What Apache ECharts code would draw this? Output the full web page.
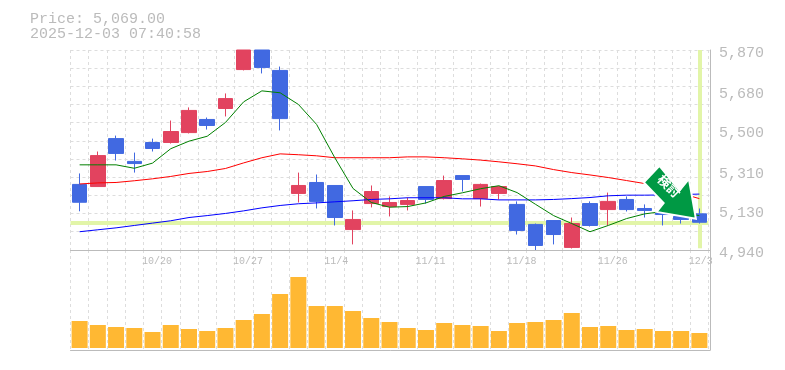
<!DOCTYPE html>
<html>
<head>
<meta charset="utf-8">
<style>
  html, body { margin: 0; padding: 0; background: #fff; }
  #chart { width: 785px; height: 370px; }
</style>
<script src="https://cdn.jsdelivr.net/npm/echarts@6/dist/echarts.min.js"></script>
</head>
<body>
<div id="chart"></div>
<script>
var dates = ['10/14','10/15','10/16','10/17','10/20','10/21','10/22','10/23','10/24','10/27','10/28','10/29','10/30','10/31','11/4','11/5','11/6','11/7','11/10','11/11','11/12','11/13','11/14','11/17','11/18','11/19','11/20','11/21','11/25','11/26','11/27','11/28','12/1','12/2','12/3']
var dateLabelIdx = [4, 9, 14, 19, 24, 29, 34]

// 10/27 and 10/28 run off the top of the frame, so they stop at 5870 here
var open  = [5245,5235,5458,5352,5440,5440,5486,5547,5598,5779,5870,5775,5203,5254,5240,5035,5156,5142,5152,5235,5179,5286,5179,5203,5152,5059,5077,4952,5156,5128,5175,5133,5114,5096,5108]
var close = [5162,5379,5389,5342,5412,5491,5589,5519,5644,5870,5789,5551,5240,5166,5091,5082,5212,5161,5170,5175,5263,5268,5245,5235,5031,4961,5012,5063,5054,5166,5128,5124,5105,5082,5069]
var low   = [5120,5235,5356,5300,5398,5435,5482,5500,5561,5775,5761,5496,5161,5133,5054,4966,5138,5096,5124,5156,5175,5212,5142,5175,5012,4940,4966,4947,5049,5054,5119,5091,5054,5063,5063]
var high  = [5296,5398,5472,5393,5458,5542,5603,5556,5668,5870,5870,5793,5300,5291,5240,5124,5240,5189,5184,5235,5286,5286,5249,5235,5166,5063,5077,5091,5166,5207,5189,5152,5114,5096,5133]

var maShort = [5336,5336,5336,5320,5344,5411,5446,5469,5533,5629,5680,5671,5617,5524,5369,5226,5161,5139,5142,5159,5189,5206,5225,5239,5207,5153,5100,5063,5025,5054,5086,5108,5119,5110,5100]
var maMid   = [5247,5252,5254,5262,5271,5282,5296,5305,5319,5345,5369,5387,5383,5378,5369,5369,5369,5369,5373,5373,5369,5364,5358,5350,5341,5331,5314,5300,5289,5277,5263,5249,5226,5203,5179]
var maLong  = [5025,5034,5043,5054,5065,5076,5091,5100,5110,5122,5136,5147,5155,5159,5164,5169,5175,5178,5183,5183,5183,5178,5178,5173,5173,5173,5175,5179,5184,5192,5195,5195,5196,5198,5200]

var volume = [27,23,21,20,16,23,19,17,20,28,34,54,71,42,42,37,30,26,20,18,25,23,22,17,25,26,28,35,21,22,18,19,17,17,15]

var lastPrice = 5069
var priceLabels = [4940, 5130, 5310, 5500, 5680, 5870]
var priceGrid = [4940,5025,5109,5194,5279,5363,5447,5532,5617,5701,5786,5870]
var titleText = 'Price: 5,069.00\n2025-12-03 07:40:58'
var arrowText = '検討'

var monoFont = '"Liberation Mono", "DejaVu Sans Mono", monospace'
var gridLine = { show: true, lineStyle: { color: '#ddd', width: 1, type: [3, 3] } }
var frameLine = { show: true, onZero: false, lineStyle: { color: '#bbb', width: 1 } }
var hidden = { axisLine: { show: false }, axisTick: { show: false }, axisLabel: { show: false }, splitLine: { show: false } }

function maLine(name, data, color) {
	return {
		name: name,
		type: 'line',
		xAxisIndex: 0,
		yAxisIndex: 0,
		data: data,
		symbol: 'none',
		silent: true,
		lineStyle: { color: color, width: 1 }
	}
}

var chart = echarts.init(document.getElementById('chart'), null, { renderer: 'canvas' })
chart.setOption({
	animation: false,
	backgroundColor: '#fff',
	title: {
		text: titleText,
		left: 25,
		top: 7,
		textStyle: { fontFamily: monoFont, fontSize: 15, fontWeight: 'normal', color: '#bbb', lineHeight: 15 }
	},
	// grids 0 and 1 hold the marks, the frame around them (2 and 3) runs a little wider
	grid: [
		{ left: 70.5, width: 638, top: 50, height: 200 },
		{ left: 70.5, width: 638, top: 250, height: 100 },
		{ left: 70.5, width: 639.5, top: 50, height: 200 },
		{ left: 70.5, width: 639.5, top: 250, height: 100 }
	],
	xAxis: [
		{
			type: 'category',
			gridIndex: 0,
			data: dates,
			axisLine: { show: false },
			axisTick: { show: false },
			axisLabel: { show: false },
			splitLine: Object.assign({ interval: 0 }, gridLine)
		},
		{
			type: 'category',
			gridIndex: 1,
			data: dates,
			axisLine: { show: false },
			axisTick: { show: false },
			axisLabel: { show: false },
			splitLine: Object.assign({ interval: 0 }, gridLine)
		},
		{
			// date labels start at the left edge of their band, so count bands here
			type: 'value',
			gridIndex: 2,
			position: 'bottom',
			min: 0.08,
			max: 35.16,
			axisLine: frameLine,
			axisTick: { show: false },
			splitLine: { show: false },
			axisLabel: {
				customValues: dateLabelIdx,
				align: 'left',
				margin: 6,
				fontFamily: monoFont,
				fontSize: 10,
				color: '#bbb',
				hideOverlap: false,
				formatter: function (v) {
					return dates[v]
				}
			}
		},
		{
			type: 'value',
			gridIndex: 3,
			position: 'bottom',
			min: 0,
			max: 1,
			axisLine: frameLine,
			axisTick: { show: false },
			axisLabel: { show: false },
			splitLine: { show: false }
		}
	],
	yAxis: [
		Object.assign({ type: 'value', gridIndex: 0, min: 4940, max: 5870 }, hidden),
		Object.assign({ type: 'value', gridIndex: 1, min: -2, max: 98 }, hidden),
		{
			type: 'value',
			gridIndex: 2,
			position: 'right',
			min: 4940,
			max: 5870,
			axisLine: frameLine,
			axisTick: { show: false, customValues: priceGrid },
			splitLine: gridLine,
			axisLabel: {
				customValues: priceLabels,
				margin: 9,
				verticalAlign: 'top',
				lineHeight: 7,
				fontFamily: monoFont,
				fontSize: 15,
				color: '#bbb',
				formatter: function (v) {
					return v.toLocaleString('en-US')
				}
			}
		},
		{
			type: 'value',
			gridIndex: 3,
			position: 'right',
			min: 0,
			max: 1,
			axisLine: frameLine,
			axisTick: { show: false },
			axisLabel: { show: false },
			splitLine: { show: false }
		}
	],
	series: [
		{
			name: 'last',
			type: 'line',
			xAxisIndex: 0,
			yAxisIndex: 0,
			z: 1,
			data: [],
			silent: true,
			markLine: {
				silent: true,
				z: 1,
				symbol: 'none',
				label: { show: false },
				lineStyle: { color: '#e2f5a8', width: 4, type: 'solid' },
				data: [
					{ yAxis: lastPrice },
					[{ xAxis: dates[34], yAxis: 4948 }, { xAxis: dates[34], yAxis: 5870 }]
				]
			}
		},
		maLine('maLong', maLong, '#0000ff'),
		maLine('maMid', maMid, '#ff0000'),
		maLine('maShort', maShort, '#008000'),
		{
			name: 'price',
			type: 'candlestick',
			xAxisIndex: 0,
			yAxisIndex: 0,
			barWidth: 15,
			silent: true,
			data: dates.map(function (d, i) {
				return [open[i], close[i], low[i], high[i]]
			}),
			itemStyle: {
				color: '#e2435f',
				color0: '#4169e1',
				borderColor: '#e2435f',
				borderColor0: '#4169e1',
				borderWidth: 1
			},
			markPoint: {
				silent: true,
				symbol: 'path://M15 0L0 16L19 36L12.3 44.4L50 51L43.3 12.7L34.3 23.7Z',
				symbolSize: [52, 53],
				symbolOffset: [-29.5, -30],
				itemStyle: { color: '#009944', borderColor: '#fff', borderWidth: 2 },
				label: {
					show: true,
					position: 'inside',
					rotate: -45,
					offset: [-5, -4],
					color: '#fff',
					fontSize: 13,
					fontWeight: 'bold',
					fontFamily: '"Noto Sans CJK JP"',
					formatter: arrowText
				},
				data: [{ coord: [dates[34], lastPrice] }]
			}
		},
		{
			name: 'volume',
			type: 'bar',
			xAxisIndex: 1,
			yAxisIndex: 1,
			barWidth: 16,
			silent: true,
			data: volume,
			itemStyle: { color: '#ffb833' }
		}
	]
})
</script>
</body>
</html>
